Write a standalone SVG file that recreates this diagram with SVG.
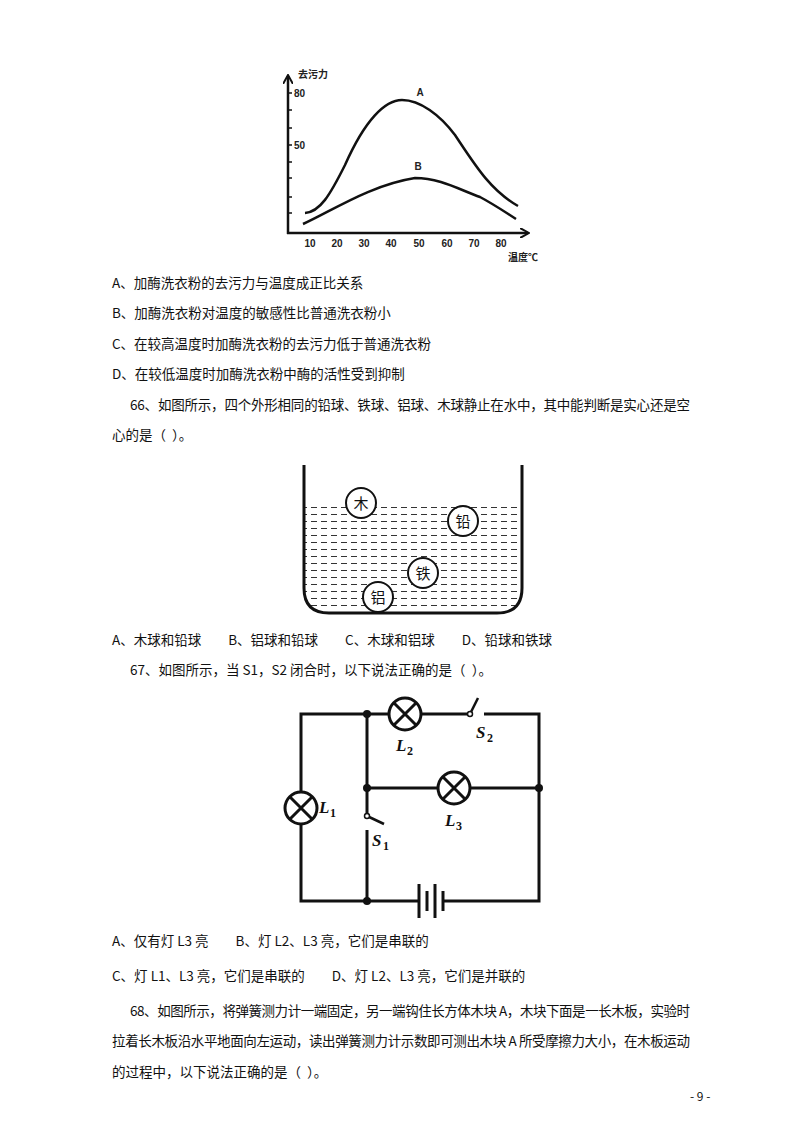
<svg xmlns="http://www.w3.org/2000/svg" width="800" height="1132" viewBox="0 0 800 1132">
<style>
.t{font-family:"Noto Sans CJK SC","Liberation Serif",serif;font-size:13.5px;fill:#111;white-space:pre}
.s{font-family:"Liberation Sans","Noto Sans CJK SC",sans-serif;font-size:10px;font-weight:bold;fill:#222}
.w{stroke:#111;stroke-width:3;fill:none}
.c{stroke:#111;stroke-width:2.5;fill:none}
.lab{font-family:"Liberation Serif",serif;font-style:italic;font-weight:bold;font-size:17px;fill:#111}
.sub{font-family:"Liberation Serif",serif;font-weight:bold;font-size:12px;fill:#111}
.ball{fill:#fff;stroke:#111;stroke-width:2}
.bt{font-family:"Noto Sans CJK SC",sans-serif;font-size:15px;fill:#111;text-anchor:middle}
</style>
<defs>
<marker id="ar" markerWidth="10" markerHeight="10" refX="8" refY="5" orient="auto" markerUnits="userSpaceOnUse"><path d="M0,0 L9,5 L0,10" fill="none" stroke="#111" stroke-width="2"/></marker>
<pattern id="dash" width="10" height="7" patternUnits="userSpaceOnUse"><line x1="1" y1="3.5" x2="7" y2="3.5" stroke="#333" stroke-width="1"/></pattern>
<clipPath id="bk"><path d="M304,502 V588 Q304,613 329,613 H497 Q522,613 522,588 V502 Z"/></clipPath>
</defs>
<g id="graph">
<line x1="288" y1="234" x2="288" y2="76" stroke="#111" stroke-width="2.5" marker-end="url(#ar)"/>
<line x1="287" y1="233" x2="528" y2="233" stroke="#111" stroke-width="2.5" marker-end="url(#ar)"/>
<g stroke="#111" stroke-width="1.5">
<line x1="288" y1="93" x2="292" y2="93"/><line x1="288" y1="110" x2="292" y2="110"/><line x1="288" y1="128" x2="292" y2="128"/><line x1="288" y1="145" x2="292" y2="145"/><line x1="288" y1="162" x2="292" y2="162"/><line x1="288" y1="178" x2="292" y2="178"/><line x1="288" y1="197" x2="292" y2="197"/><line x1="288" y1="213" x2="292" y2="213"/>
</g>
<path d="M305,213 C320,212 330,195 345,165 C365,120 385,100 402,100 C420,100 440,115 455,135 C475,165 490,190 518,206" class="c"/>
<path d="M303,224 C330,212 370,185 415,178 C440,178 460,190 480,197 C495,205 505,212 516,219" class="c"/>
<text x="420" y="96" class="s" text-anchor="middle" font-size="9">A</text>
<text x="418" y="170" class="s" text-anchor="middle" font-size="9">B</text>
<text x="298" y="78" class="s" font-size="11">去污力</text>
<text x="294" y="97" class="s">80</text>
<text x="294" y="149" class="s">50</text>
<text x="508" y="261" class="s" font-size="11">温度℃</text>
<g class="s" text-anchor="middle"><text x="310" y="247">10</text><text x="337" y="247">20</text><text x="364" y="247">30</text><text x="391" y="247">40</text><text x="419" y="247">50</text><text x="447" y="247">60</text><text x="474" y="247">70</text><text x="501" y="247">80</text></g>
</g>
<g id="text1" class="t">
<text x="112" y="288">A、加酶洗衣粉的去污力与温度成正比关系</text>
<text x="112" y="318">B、加酶洗衣粉对温度的敏感性比普通洗衣粉小</text>
<text x="112" y="349">C、在较高温度时加酶洗衣粉的去污力低于普通洗衣粉</text>
<text x="112" y="379">D、在较低温度时加酶洗衣粉中酶的活性受到抑制</text>
<text x="130" y="410" textLength="560">66、如图所示，四个外形相同的铅球、铁球、铝球、木球静止在水中，其中能判断是实心还是空</text>
<text x="112" y="440">心的是（&#160;&#160;）。</text>
</g>
<g id="beaker">
<rect x="304" y="502" width="218" height="111" fill="url(#dash)" clip-path="url(#bk)"/>
<path d="M304,465 V588 Q304,613 329,613 H497 Q522,613 522,588 V465" class="w"/>
<circle cx="361" cy="503" r="15" class="ball"/><text x="361" y="509" class="bt">木</text>
<circle cx="463" cy="521" r="15" class="ball"/><text x="463" y="527" class="bt">铅</text>
<circle cx="423" cy="573" r="15" class="ball"/><text x="423" y="579" class="bt">铁</text>
<circle cx="378" cy="597" r="15" class="ball"/><text x="378" y="603" class="bt">铝</text>
</g>
<g id="text2" class="t">
<text x="112" y="645">A、木球和铅球　　B、铝球和铅球　　C、木球和铝球　　D、铅球和铁球</text>
<text x="130" y="675">67、如图所示，当 S1，S2 闭合时，以下说法正确的是（&#160;&#160;）。</text>
</g>
<g id="connectors" class="w">
<path d="M389,714 H301 V792"/><path d="M301,824 V901 H419"/>
<path d="M421,714 H470"/><path d="M484,714 H539 V901 H443"/>
<path d="M367,714 V816"/><path d="M367,830 V901"/>
<path d="M367,788 H438"/><path d="M470,788 H539"/>
<line x1="470" y1="714" x2="478" y2="698" stroke-width="2.5"/>
<line x1="367" y1="816" x2="384" y2="824" stroke-width="2.5"/>
<line x1="419" y1="884" x2="419" y2="918"/><line x1="427" y1="891" x2="427" y2="911"/>
<line x1="435" y1="884" x2="435" y2="918"/><line x1="443" y1="891" x2="443" y2="911"/>
</g>
<g id="nodes" fill="#111">
<circle cx="367" cy="714" r="4"/><circle cx="367" cy="788" r="4"/><circle cx="539" cy="788" r="4"/><circle cx="367" cy="901" r="4"/>
<circle cx="470" cy="714" r="2.5" fill="#fff" stroke="#111" stroke-width="1.5"/>
<circle cx="367" cy="816" r="2.5" fill="#fff" stroke="#111" stroke-width="1.5"/>
</g>
<g id="L2"><circle cx="405" cy="714" r="16" class="w" fill="#fff"/><path d="M394,703 L416,725 M416,703 L394,725" class="w"/><text x="396" y="751" class="lab">L</text><text x="407" y="755" class="sub">2</text></g>
<g id="L3"><circle cx="454" cy="788" r="16" class="w" fill="#fff"/><path d="M443,777 L465,799 M465,777 L443,799" class="w"/><text x="445" y="826" class="lab">L</text><text x="456" y="830" class="sub">3</text></g>
<g id="L1"><circle cx="301" cy="808" r="16" class="w" fill="#fff"/><path d="M290,797 L312,819 M312,797 L290,819" class="w"/><text x="319" y="813" class="lab">L</text><text x="330" y="817" class="sub">1</text></g>
<g id="S2"><text x="476" y="738" class="lab">S</text><text x="487" y="742" class="sub">2</text></g>
<g id="S1"><text x="372" y="846" class="lab">S</text><text x="383" y="850" class="sub">1</text></g>
<g id="text3" class="t">
<text x="112" y="946">A、仅有灯 L3 亮　　B、灯 L2、L3 亮，它们是串联的</text>
<text x="112" y="981">C、灯 L1、L3 亮，它们是串联的　　D、灯 L2、L3 亮，它们是并联的</text>
<text x="130" y="1016" textLength="560">68、如图所示，将弹簧测力计一端固定，另一端钩住长方体木块 A，木块下面是一长木板，实验时</text>
<text x="112" y="1046" textLength="578">拉着长木板沿水平地面向左运动，读出弹簧测力计示数即可测出木块 A 所受摩擦力大小，在木板运动</text>
<text x="112" y="1077">的过程中，以下说法正确的是（&#160;&#160;）。</text>
<text x="690" y="1101" font-size="12">- 9 -</text>
</g>
</svg>
